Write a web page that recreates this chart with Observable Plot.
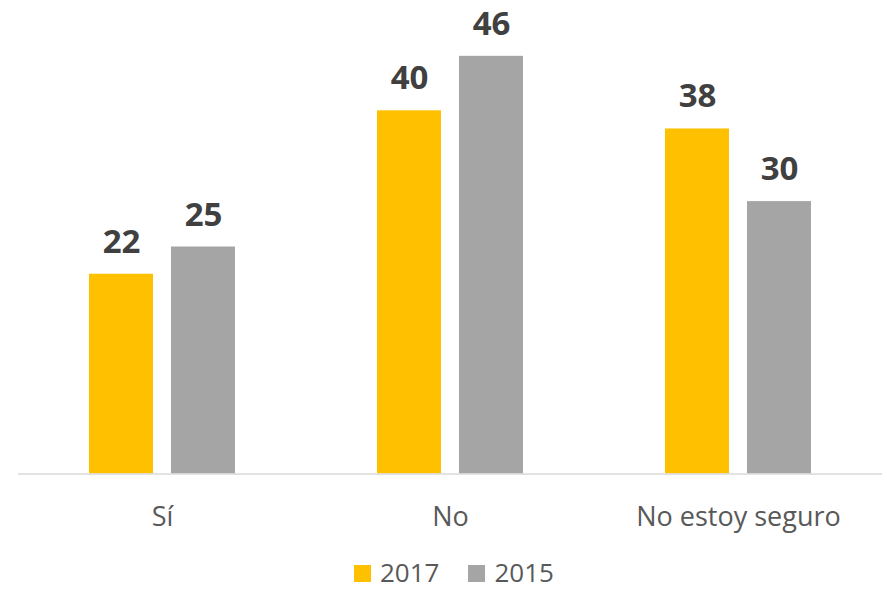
<!DOCTYPE html>
<html>
<head>
<meta charset="utf-8">
<script src="https://cdn.jsdelivr.net/npm/d3@7"></script>
<script src="https://cdn.jsdelivr.net/npm/@observablehq/plot@0.6"></script>
<style>
  html, body { margin: 0; padding: 0; background: #fff; }
  #wrap { position: relative; width: 887px; height: 590px; font-family: "Open Sans", sans-serif; }
  #legend { position: absolute; left: 354px; top: 562px; font-size: 26px; line-height: 20px; color: #595959; white-space: nowrap; }
  #legend .sw { display: inline-block; width: 17px; height: 17px; margin-right: 9px; }
  #legend .lab { display: inline-block; margin-right: 29px; }
</style>
</head>
<body>
<div id="wrap"></div>
<script>
const categories = ["Sí", "No", "No estoy seguro"];
const years = ["2017", "2015"];
const values2017 = [22, 40, 38];
const values2015 = [25, 46, 30];
const colors = ["#FFC000", "#A5A5A5"];

const data = [];
categories.forEach((c, i) => {
  data.push({cat: c, year: years[0], value: values2017[i]});
  data.push({cat: c, year: years[1], value: values2015[i]});
});

const chart = Plot.plot({
  width: 887,
  height: 550,
  marginTop: 19.5,
  marginBottom: 76.5,
  marginLeft: 17,
  marginRight: 5,
  style: {fontFamily: "Open Sans, sans-serif", background: "#fff"},
  fx: {domain: categories, padding: 0},
  x: {domain: years, paddingInner: 0.22, paddingOuter: 0.866, axis: null},
  y: {domain: [0, 50], axis: null},
  color: {domain: years, range: colors},
  marks: [
    Plot.barY(data, {fx: "cat", x: "year", y: "value", fill: "year"}),
    Plot.ruleY([0], {stroke: "#D9D9D9", strokeWidth: 1.3}),
    Plot.text(data, {fx: "cat", x: "year", y: "value", text: d => String(d.value),
      lineAnchor: "bottom", dy: -21.5, fontSize: 33, fontWeight: "bold", fill: "#404040"}),
    Plot.axisFx({anchor: "bottom", tickSize: 0, tickPadding: 33, fontSize: 27, fill: "#595959", label: null})
  ]
});

const wrap = document.getElementById("wrap");
wrap.appendChild(chart);

const legend = document.createElement("div");
legend.id = "legend";
years.forEach((y, i) => {
  const sw = document.createElement("span");
  sw.className = "sw";
  sw.style.background = colors[i];
  const lab = document.createElement("span");
  lab.className = "lab";
  lab.textContent = y;
  legend.appendChild(sw);
  legend.appendChild(lab);
});
wrap.appendChild(legend);
</script>
</body>
</html>
